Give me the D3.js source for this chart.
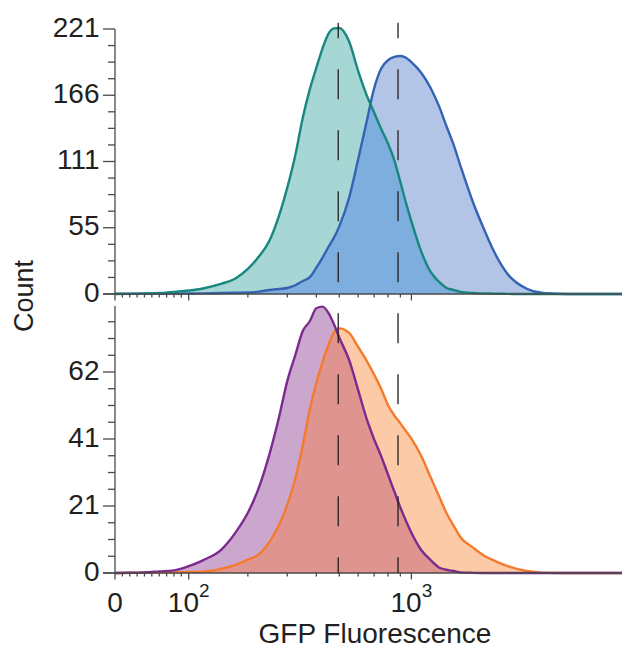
<!DOCTYPE html>
<html><head><meta charset="utf-8">
<script src="https://cdn.jsdelivr.net/npm/d3@7"></script>
<style>body{margin:0;background:#fff}svg{display:block}</style>
</head><body><svg id="c" width="622" height="650"></svg>
<script>
// ---------- data ----------
const fluor = [0,20,40,60,80,100,120,150,175,200,225,250,275,300,325,350,375,400,425,450,475,500,550,600,650,700,750,800,850,900,950,1000,1100,1200,1300,1400,1500,1600,1800,2000,2200,2500,3000,3500,4000,5000,7500];
const tealCounts   = [0,0.1,0.4,0.8,1.7,2.9,4.6,8.6,13,20.9,31.4,44.2,64.4,88.7,115.8,147,170.6,188.7,204.9,217,221.5,221.8,210.6,186.1,166.3,151.3,137.4,125.3,111.2,93.3,75.8,60.6,35.1,18.6,10.3,5,3.3,1.7,0.8,0.5,0.3,0.1,0,0,0,0,0];
const blueCounts   = [0.2,0.3,0.3,0.3,0.3,0.4,0.5,0.8,1.0,1.2,2.0,3.3,4.2,5,7.3,10.8,14,22,30.4,39.2,47,56.4,80.3,112.1,143,171.6,188.3,195,197.7,198.5,197,193.3,184.3,172,156.9,139.5,123.7,106.3,76.3,53.8,35.2,16.7,4.4,0.8,0.25,0,0];
const purpleCounts = [0,0.06,0.2,0.5,0.8,2.1,3.9,7.3,12.4,18.5,26.4,36.3,47.4,59,67,74.4,77.4,81.4,81.9,80,76.5,72.4,65.5,56.3,47.6,41.1,35.8,30.2,25,20.1,16,12.4,7,4,1.7,1,0.6,0.2,0.05,0,0,0,0,0,0,0,0];
const orangeCounts = [0,0.1,0.1,0.2,0.2,0.3,0.4,1.3,2.5,4.1,5.8,9.5,14.5,21,29,39.3,50.3,58.4,64.9,70.1,74,75.2,73.8,69.5,65.4,61,56.5,51.6,48.4,46,43.6,41.3,35.9,29.5,23.7,18.3,14.4,10.9,7.8,5.3,3.8,2.1,0.6,0.1,0,0,0];

const topMax = 221;
const topMajorTicks = [0,55.25,110.5,165.75,221];
const topTickLabels = ["0","55","111","166","221"];
const bottomMax = 82.4;
const bottomMajorTicks = [0,20.6,41.2,61.8];
const bottomTickLabels = ["0","21","41","62"];
const xMajorTicks = [0,100,1000];
const xMinorTicks = [10,20,30,40,50,60,70,80,90,200,300,400,500,600,700,800,900];
const xTickLabels = [{base:"0",exp:""},{base:"10",exp:"2"},{base:"10",exp:"3"}];
const gates = [495,880];
const xLabel = "GFP Fluorescence";
const yLabel = "Count";

// ---------- scales ----------
const T = v => v >= 100 ? Math.asinh(v/100) : Math.asinh(1) - 0.7006*(1 - v/100);
const xs = d3.scaleLinear().domain([T(100), T(1000)]).range([188.7, 411.4]);
const x = v => xs(T(v));
const yTop = d3.scaleLinear().domain([0, topMax]).range([294, 29]);
const yBot = d3.scaleLinear().domain([0, bottomMax]).range([573, 305]);

const svg = d3.select("#c");
const axisColor = "#4a4a4a", textColor = "#231f20";
const FONT = "'Liberation Sans', Arial, sans-serif";

function drawPanel(id, y, A, B, cA, cB, overlapColor, aOnTop) {
  const g = svg.append("g");
  const area = vals => d3.area().x((d,i)=>x(fluor[i])).y0(y(0)).y1((d)=>y(d)).curve(d3.curveMonotoneX)(vals);
  const line = vals => d3.line().x((d,i)=>x(fluor[i])).y(d=>y(d)).curve(d3.curveMonotoneX)(vals);
  g.append("clipPath").attr("id", id+"clip").append("path").attr("d", area(A));
  g.append("path").attr("d", area(A)).attr("fill", cA.fill);
  g.append("path").attr("d", area(B)).attr("fill", cB.fill);
  g.append("path").attr("d", area(B)).attr("fill", overlapColor).attr("clip-path", `url(#${id}clip)`);
  return () => {
    const order = aOnTop ? [[B,cB],[A,cA]] : [[A,cA],[B,cB]];
    order.forEach(([v,c]) => g.append("path").attr("d", line(v)).attr("fill","none")
      .attr("stroke", c.stroke).attr("stroke-width", 2.4).attr("stroke-linejoin","round"));
  };
}

const finishTop = drawPanel("top", yTop, tealCounts, blueCounts,
  {fill:"#a7d7d5", stroke:"#17877f"}, {fill:"#b3c5e6", stroke:"#3463b3"}, "#7daedd", true);
const finishBot = drawPanel("bot", yBot, purpleCounts, orangeCounts,
  {fill:"#cca7cd", stroke:"#7b2a8e"}, {fill:"#fccaa6", stroke:"#f47b2e"}, "#e0948f", true);

// ---------- axes ----------
function yAxis(y, majors, labels, max, yTopLine, yBottomLine) {
  const g = svg.append("g").attr("stroke", axisColor).attr("stroke-width", 1.3);
  const x0 = x(0);
  g.append("line").attr("x1", x0).attr("x2", x0).attr("y1", yTopLine).attr("y2", yBottomLine);
  const step = majors[1] / 4;
  for (let v = 0; v <= max + 0.001; v += step) {
    const isMajor = majors.some(m => Math.abs(m - v) < 0.01);
    if (!isMajor && Math.abs(v - max) < 0.01) continue;
    g.append("line").attr("x1", x0 - (isMajor ? 12 : 7)).attr("x2", x0)
      .attr("y1", y(v)).attr("y2", y(v));
  }
  svg.append("g").selectAll("text").data(majors).join("text")
    .attr("x", x0 - 15.5).attr("y", d => y(d) + 7.5)
    .attr("text-anchor", "end").attr("font-family", FONT).attr("font-size", 28)
    .attr("fill", textColor).text((d,i) => labels[i]);
}
function xAxis(y0) {
  const g = svg.append("g").attr("stroke", axisColor).attr("stroke-width", 1.3);
  g.append("line").attr("x1", x(0) - 12).attr("x2", 622).attr("y1", y0).attr("y2", y0);
  xMajorTicks.forEach(v => g.append("line").attr("x1", x(v)).attr("x2", x(v)).attr("y1", y0).attr("y2", y0 + 6.5));
  xMinorTicks.forEach(v => g.append("line").attr("x1", x(v)).attr("x2", x(v)).attr("y1", y0).attr("y2", y0 + 3.5));
}

yAxis(yTop, topMajorTicks, topTickLabels, topMax, yTop(topMax), yTop(0));
xAxis(yTop(0));
yAxis(yBot, bottomMajorTicks, bottomTickLabels, bottomMax, yBot(bottomMax) + 1, yBot(0));
xAxis(yBot(0));

finishTop();
finishBot();

// ---------- gates ----------
gates.forEach(v => {
  svg.append("line").attr("x1", x(v)).attr("x2", x(v)).attr("y1", 22.7).attr("y2", yTop(0))
    .attr("stroke", "#231f20").attr("stroke-width", 1.3).attr("stroke-dasharray", "30,31").attr("stroke-dashoffset", 14.4);
  svg.append("line").attr("x1", x(v)).attr("x2", x(v)).attr("y1", 313.3).attr("y2", yBot(0))
    .attr("stroke", "#231f20").attr("stroke-width", 1.3).attr("stroke-dasharray", "30,31");
});

// ---------- x tick labels ----------
const xl = svg.append("g").attr("font-family", FONT).attr("fill", textColor);
xMajorTicks.forEach((v,i) => {
  const t = xl.append("text").attr("x", x(v)).attr("y", 612).attr("text-anchor", "middle").attr("font-size", 28);
  t.append("tspan").text(xTickLabels[i].base);
  if (xTickLabels[i].exp) t.append("tspan").attr("dy", -15).attr("font-size", 19).text(xTickLabels[i].exp);
});

// ---------- axis titles ----------
svg.append("text").attr("x", 375).attr("y", 643).attr("text-anchor", "middle")
  .attr("font-family", FONT).attr("font-size", 28).attr("fill", textColor).text(xLabel);
svg.append("text").attr("transform", "translate(33,296) rotate(-90)").attr("text-anchor", "middle")
  .attr("font-family", FONT).attr("font-size", 27).attr("fill", textColor).text(yLabel);
</script>
</body></html>
